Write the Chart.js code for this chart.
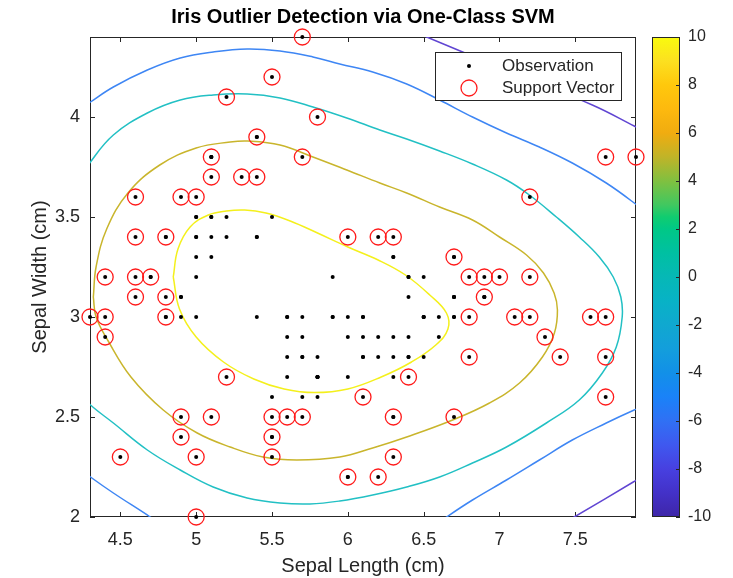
<!DOCTYPE html>
<html><head><meta charset="utf-8">
<script src="https://cdn.jsdelivr.net/npm/chart.js@4"></script>
<style>html,body{margin:0;padding:0;background:#fff}#wrap{width:733px;height:578px;position:relative}</style>
</head><body><div id="wrap"><canvas id="c" width="733" height="578"></canvas></div>
<script>
const FONT = "'Liberation Sans', Arial, Helvetica, sans-serif";
const chartTitle = 'Iris Outlier Detection via One-Class SVM';
const xTicks = [4.5, 5, 5.5, 6, 6.5, 7, 7.5];
const xTickLabels = ['4.5', '5', '5.5', '6', '6.5', '7', '7.5'];
const yTicks = [2, 2.5, 3, 3.5, 4];
const yTickLabels = ['2', '2.5', '3', '3.5', '4'];
const cbTicks = [-10, -8, -6, -4, -2, 0, 2, 4, 6, 8, 10];

const sepalLength = [
 5.1,4.9,4.7,4.6,5.0,5.4,4.6,5.0,4.4,4.9,5.4,4.8,4.8,4.3,5.8,5.7,5.4,5.1,5.7,5.1,5.4,5.1,4.6,5.1,4.8,5.0,5.0,5.2,5.2,4.7,4.8,5.4,5.2,5.5,4.9,5.0,5.5,4.9,4.4,5.1,5.0,4.5,4.4,5.0,5.1,4.8,5.1,4.6,5.3,5.0,
 7.0,6.4,6.9,5.5,6.5,5.7,6.3,4.9,6.6,5.2,5.0,5.9,6.0,6.1,5.6,6.7,5.6,5.8,6.2,5.6,5.9,6.1,6.3,6.1,6.4,6.6,6.8,6.7,6.0,5.7,5.5,5.5,5.8,6.0,5.4,6.0,6.7,6.3,5.6,5.5,5.5,6.1,5.8,5.0,5.6,5.7,5.7,6.2,5.1,5.7,
 6.3,5.8,7.1,6.3,6.5,7.6,4.9,7.3,6.7,7.2,6.5,6.4,6.8,5.7,5.8,6.4,6.5,7.7,7.7,6.0,6.9,5.6,7.7,6.3,6.7,7.2,6.2,6.1,6.4,7.2,7.4,7.9,6.4,6.3,6.1,7.7,6.3,6.4,6.0,6.9,6.7,6.9,5.8,6.8,6.7,6.7,6.3,6.5,6.2,5.9];
const sepalWidth = [
 3.5,3.0,3.2,3.1,3.6,3.9,3.4,3.4,2.9,3.1,3.7,3.4,3.0,3.0,4.0,4.4,3.9,3.5,3.8,3.8,3.4,3.7,3.6,3.3,3.4,3.0,3.4,3.5,3.4,3.2,3.1,3.4,4.1,4.2,3.1,3.2,3.5,3.6,3.0,3.4,3.5,2.3,3.2,3.5,3.8,3.0,3.8,3.2,3.7,3.3,
 3.2,3.2,3.1,2.3,2.8,2.8,3.3,2.4,2.9,2.7,2.0,3.0,2.2,2.9,2.9,3.1,3.0,2.7,2.2,2.5,3.2,2.8,2.5,2.8,2.9,3.0,2.8,3.0,2.9,2.6,2.4,2.4,2.7,2.7,3.0,3.4,3.1,2.3,3.0,2.5,2.6,3.0,2.6,2.3,2.7,3.0,2.9,2.9,2.5,2.8,
 3.3,2.7,3.0,2.9,3.0,3.0,2.5,2.9,2.5,3.6,3.2,2.7,3.0,2.5,2.8,3.2,3.0,3.8,2.6,2.2,3.2,2.8,2.8,2.7,3.3,3.2,2.8,3.0,2.8,3.0,2.8,3.8,2.8,2.8,2.6,3.0,3.4,3.1,3.0,3.1,3.1,3.1,2.7,3.2,3.3,3.0,2.5,3.0,3.4,3.0];

const svLength = [5.7,5.5,5.2,5.8,5.4,5.1,5.7,5.1,5.3,5.4,4.6,4.9,5.0,4.6,4.8,6.0,6.2,6.3,6.7,4.4,4.6,4.7,6.8,6.9,7.0,7.2,4.6,4.8,6.9,4.3,4.4,4.8,6.8,7.1,7.2,7.6,7.7,4.4,7.3,6.8,7.4,7.7,5.2,6.4,6.1,7.7,4.9,5.1,5.5,5.6,5.7,6.3,6.7,4.9,5.5,4.5,5.0,5.5,6.3,6.0,6.2,5.0,7.7,7.9,7.2];
const svWidth  = [4.4,4.2,4.1,4.0,3.9,3.8,3.8,3.7,3.7,3.7,3.6,3.6,3.6,3.4,3.4,3.4,3.4,3.4,3.3,3.2,3.2,3.2,3.2,3.2,3.2,3.2,3.1,3.1,3.1,3.0,3.0,3.0,3.0,3.0,3.0,3.0,3.0,2.9,2.9,2.8,2.8,2.8,2.7,2.7,2.6,2.6,2.5,2.5,2.5,2.5,2.5,2.5,2.5,2.4,2.4,2.3,2.3,2.3,2.3,2.2,2.2,2.0,3.8,3.8,3.6];

const contourYellow = [[4.849,3.2],[4.88,3.34],[4.96,3.45],[5.08,3.51],[5.2,3.53],[5.32,3.535],[5.46,3.52],[5.62,3.48],[5.8,3.42],[6.0,3.35],[6.2,3.285],[6.38,3.21],[6.54,3.11],[6.65,3.02],[6.66,2.94],[6.58,2.86],[6.42,2.775],[6.22,2.7],[6.0,2.64],[5.78,2.622],[5.58,2.64],[5.38,2.69],[5.18,2.775],[5.0,2.9],[4.89,3.04],[4.849,3.2]];
const contourOlive = [[4.322,3.1],[4.34,3.25],[4.41,3.44],[4.55,3.62],[4.76,3.76],[5.0,3.845],[5.224,3.875],[5.34,3.88],[5.553,3.86],[5.77,3.8],[5.993,3.735],[6.211,3.67],[6.388,3.62],[6.605,3.55],[6.822,3.485],[7.0,3.4],[7.178,3.31],[7.29,3.22],[7.36,3.12],[7.382,3.035],[7.362,2.92],[7.283,2.8],[7.132,2.67],[6.934,2.57],[6.691,2.485],[6.388,2.4],[6.164,2.345],[5.947,2.3],[5.664,2.285],[5.441,2.3],[5.224,2.35],[5.007,2.42],[4.783,2.535],[4.57,2.7],[4.42,2.88],[4.34,3.0],[4.322,3.1]];
const contourTeal = [[4.2,3.655],[4.303,3.775],[4.454,3.91],[4.678,4.02],[4.895,4.085],[5.112,4.11],[5.336,4.115],[5.553,4.095],[5.77,4.05],[5.993,3.995],[6.211,3.935],[6.388,3.89],[6.605,3.83],[6.822,3.765],[7.046,3.685],[7.197,3.61],[7.375,3.5],[7.526,3.4],[7.658,3.3],[7.75,3.2],[7.8,3.1],[7.809,3.0],[7.77,2.85],[7.678,2.72],[7.526,2.585],[7.309,2.47],[7.046,2.35],[6.822,2.27],[6.605,2.2],[6.388,2.15],[6.164,2.11],[5.947,2.08],[5.75,2.065],[5.553,2.07],[5.336,2.095],[5.112,2.15],[4.895,2.235],[4.678,2.335],[4.454,2.47],[4.303,2.56],[4.2,2.64]];
const contourBlueTop = [[4.2,4.02],[4.303,4.075],[4.454,4.15],[4.678,4.235],[4.895,4.295],[5.112,4.325],[5.336,4.34],[5.553,4.33],[5.77,4.3],[5.947,4.265],[6.164,4.225],[6.388,4.165],[6.605,4.085],[6.822,4.0],[7.046,3.92],[7.263,3.85],[7.48,3.77],[7.704,3.67],[7.888,3.57],[8.0,3.5]];
const contourBlueBottomRight = [[6.55,1.945],[6.651,2.0],[6.822,2.085],[7.046,2.185],[7.263,2.285],[7.48,2.385],[7.704,2.47],[7.888,2.535],[8.0,2.57]];
const contourBlueBottomLeft = [[4.2,2.26],[4.303,2.2],[4.454,2.12],[4.697,2.0],[4.8,1.945]];
const contourPurpleTop = [[6.4,4.44],[6.52,4.4],[6.757,4.325],[7.2,4.185],[7.612,4.06],[7.888,3.955],[8.0,3.91]];
const contourPurpleBottom = [[7.4,1.958],[7.493,2.0],[7.882,2.175],[8.0,2.23]];

const cbColorStops = [[-10,'#3e26a8'],[-9,'#4331c8'],[-8,'#4740e0'],[-7,'#3f58ef'],[-6,'#3070f4'],[-5,'#1a82f8'],[-4,'#1290e8'],[-3,'#139edc'],[-2,'#10a8d0'],[-1,'#08b2c6'],[0,'#06b8b6'],[1,'#00c0a2'],[2,'#00c886'],[2.5,'#10cc70'],[3,'#40c860'],[4,'#80c040'],[5,'#c0b428'],[6,'#f0ac10'],[7,'#fdb90e'],[8,'#ffc80c'],[9,'#fce020'],[10,'#f9fb0e']];

const toXY = arr => arr.map(p => ({x: p[0], y: p[1]}));
function line(data, color) {
  return {type: 'line', data: toXY(data), borderColor: color, borderWidth: 1.5, pointRadius: 0,
          tension: 0.4, fill: false, showLine: true, order: 5, clip: 0, xAxisID: 'x', yAxisID: 'y'};
}
const AXC = '#262626';
const noPad = s => { s.paddingTop = 0; s.paddingBottom = 0; };

const framePlugin = {
  id: 'frame',
  beforeDatasetsDraw(chart) {
    const {ctx, chartArea: a, scales} = chart;
    ctx.save();
    ctx.fillStyle = '#000'; ctx.font = 'bold 20px ' + FONT; ctx.textAlign = 'center'; ctx.textBaseline = 'middle';
    ctx.fillText(chartTitle, (a.left + a.right) / 2, 17);
    ctx.strokeStyle = AXC; ctx.lineWidth = 1;
    ctx.strokeRect(a.left + 0.5, a.top + 0.5, a.right - a.left - 1, a.bottom - a.top - 1);
    ctx.beginPath();
    xTicks.forEach(v => { const px = Math.round(scales.x.getPixelForValue(v)) + 0.5;
      ctx.moveTo(px, a.bottom); ctx.lineTo(px, a.bottom - 5); ctx.moveTo(px, a.top); ctx.lineTo(px, a.top + 5); });
    yTicks.forEach(v => { const py = Math.round(scales.y.getPixelForValue(v)) + 0.5;
      ctx.moveTo(a.left, py); ctx.lineTo(a.left + 5, py); ctx.moveTo(a.right, py); ctx.lineTo(a.right - 5, py); });
    ctx.stroke();
    const cb = scales.yCb;
    const top = cb.getPixelForValue(10), bot = cb.getPixelForValue(-10);
    const L = a.right + 16, R = a.right + 44;
    const g = ctx.createLinearGradient(0, bot, 0, top);
    cbColorStops.forEach(s => g.addColorStop((s[0] + 10) / 20, s[1]));
    ctx.fillStyle = g;
    ctx.fillRect(L, top, R - L, bot - top);
    ctx.strokeStyle = AXC;
    ctx.strokeRect(L + 0.5, top + 0.5, R - L - 1, bot - top - 1);
    ctx.beginPath();
    cbTicks.forEach(v => { const py = Math.round(cb.getPixelForValue(v)) + 0.5;
      ctx.moveTo(R, py); ctx.lineTo(R - 4, py); });
    ctx.stroke();
    ctx.restore();
  },
  afterDatasetsDraw(chart) {
    const {ctx} = chart;
    const ds = chart.data.datasets;
    ctx.save();
    const bx = 435.5, by = 52.5, bw = 186, bh = 48;
    ctx.fillStyle = '#fff'; ctx.fillRect(bx, by, bw, bh);
    ctx.strokeStyle = AXC; ctx.lineWidth = 1; ctx.strokeRect(bx, by, bw, bh);
    ctx.fillStyle = ds[0].backgroundColor;
    ctx.beginPath(); ctx.arc(469, 66, ds[0].pointRadius, 0, Math.PI * 2); ctx.fill();
    ctx.strokeStyle = ds[1].borderColor; ctx.lineWidth = ds[1].borderWidth;
    ctx.beginPath(); ctx.arc(469, 88, ds[1].pointRadius, 0, Math.PI * 2); ctx.stroke();
    ctx.fillStyle = AXC; ctx.font = '17px ' + FONT; ctx.textBaseline = 'middle'; ctx.textAlign = 'left';
    ctx.fillText(ds[0].label, 502, 66);
    ctx.fillText(ds[1].label, 502, 88);
    ctx.restore();
  }
};

new Chart(document.getElementById('c'), {
  type: 'scatter',
  data: {
    datasets: [
      {label: 'Observation', data: sepalLength.map((v, i) => ({x: v, y: sepalWidth[i]})),
       backgroundColor: '#000', borderColor: '#000', borderWidth: 0, pointRadius: 2, order: 1, clip: false, xAxisID: 'x', yAxisID: 'y'},
      {label: 'Support Vector', data: svLength.map((v, i) => ({x: v, y: svWidth[i]})),
       backgroundColor: 'rgba(0,0,0,0)', borderColor: '#ff1a1a', borderWidth: 1.3, pointRadius: 8, order: 0, clip: false, xAxisID: 'x', yAxisID: 'y'},
      line(contourYellow, '#f4f01c'),
      line(contourOlive, '#c9b52c'),
      line(contourTeal, '#22c0c4'),
      line(contourBlueTop, '#3e86f4'),
      line(contourBlueBottomRight, '#3e86f4'),
      line(contourBlueBottomLeft, '#3e86f4'),
      line(contourPurpleTop, '#6045d2'),
      line(contourPurpleBottom, '#6045d2')
    ]
  },
  options: {
    responsive: false, animation: false, events: [], devicePixelRatio: 1,
    layout: {padding: {left: 0, right: 0, top: 37, bottom: 0}},
    plugins: {legend: {display: false}, tooltip: {enabled: false}, title: {display: false}},
    scales: {
      x: {type: 'linear', position: 'bottom', min: 4.3, max: 7.9,
          grid: {display: false, drawTicks: false}, border: {display: false},
          afterBuildTicks: s => { s.ticks = xTicks.map(v => ({value: v})); },
          afterFit: s => { s.height = 61; s.paddingLeft = 0; s.paddingRight = 0; },
          ticks: {autoSkip: false, maxRotation: 0, padding: 12, color: AXC, font: {family: FONT, size: 18},
                  callback: v => xTickLabels[xTicks.indexOf(v)] ?? ''},
          title: {display: true, text: 'Sepal Length (cm)', color: AXC, font: {family: FONT, size: 20}, padding: {top: 0, bottom: 0}}},
      y: {type: 'linear', position: 'left', min: 2, max: 4.4,
          grid: {display: false, drawTicks: false}, border: {display: false},
          afterBuildTicks: s => { s.ticks = yTicks.map(v => ({value: v})); },
          afterFit: s => { s.width = 90; noPad(s); },
          ticks: {autoSkip: false, padding: 10, color: AXC, font: {family: FONT, size: 18},
                  callback: v => yTickLabels[yTicks.indexOf(v)] ?? ''},
          title: {display: true, text: 'Sepal Width (cm)', color: AXC, font: {family: FONT, size: 20}, padding: {top: 28, bottom: 0}}},
      yCb: {axis: 'y', type: 'linear', position: 'right', min: -10, max: 10,
          grid: {display: false, drawTicks: false}, border: {display: false},
          afterBuildTicks: s => { s.ticks = cbTicks.map(v => ({value: v})); },
          afterFit: s => { s.width = 97; noPad(s); },
          ticks: {autoSkip: false, padding: 52, color: AXC, font: {family: FONT, size: 16}}}
    }
  },
  plugins: [framePlugin]
});
</script></body></html>
